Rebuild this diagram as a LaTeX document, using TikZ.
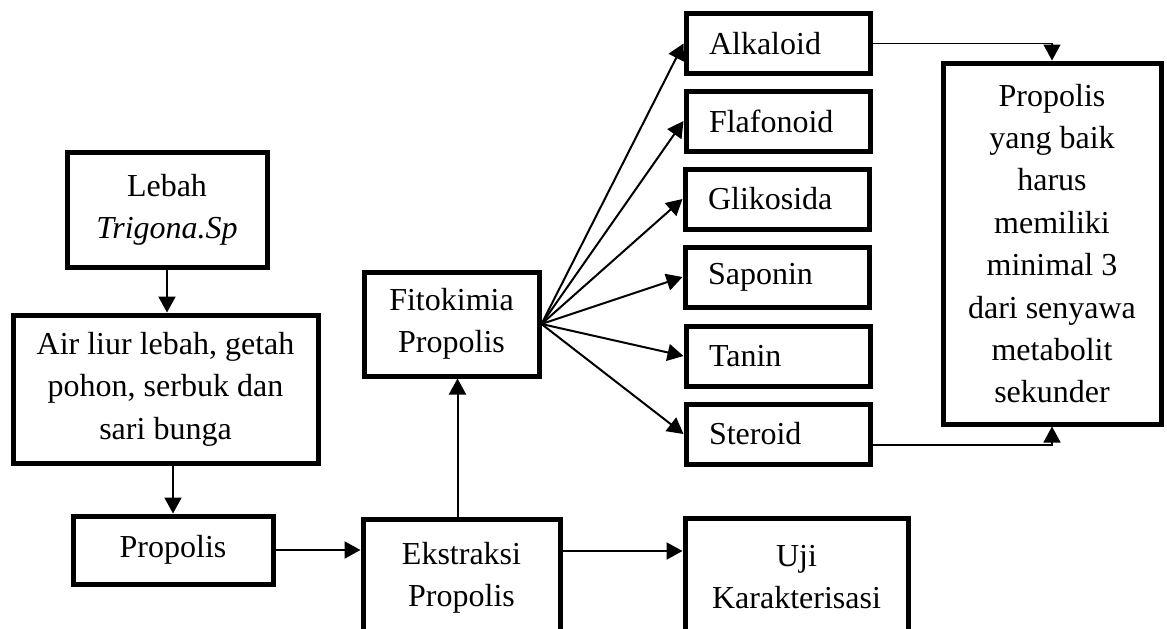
\documentclass[tikz,border=0pt]{standalone}
\usepackage{fontspec}
\setmainfont{Liberation Serif}
\usetikzlibrary{arrows.meta}

\tikzset{
	kotak/.style={draw, line width=2.5pt, align=center, inner sep=2pt, font=\fontsize{16}{21.2}\selectfont},
	senyawa/.style={kotak, align=left, text width=69pt, inner xsep=11.5pt, minimum height=30pt},
	panah/.style={-{Triangle[length=8pt,width=8.5pt]}, line width=1pt},
}

\begin{document}
\begin{tikzpicture}[x=0.5pt,y=-0.5pt]
	\path[use as bounding box, clip] (0,0) rectangle (1167,628);
	% kolom kiri
	\node[kotak, minimum width=100pt, minimum height=57.5pt] (lebah) at (167,209.5) {Lebah\\\textit{Trigona.Sp}};
	\node[kotak, minimum width=152.5pt, minimum height=74pt] (liur) at (165.5,389) {Air liur lebah, getah\\pohon, serbuk dan\\sari bunga};
	\node[kotak, minimum width=100pt, minimum height=34pt] (propolis) at (173,550) {Propolis};
	\node[kotak, minimum width=98.5pt, minimum height=58.5pt] (ekstrak) at (461.5,577.5) {Ekstraksi\\Propolis};
	\node[kotak, minimum width=111.5pt, minimum height=59pt] (uji) at (796.5,577) {Uji\\Karakterisasi};
	\node[kotak, minimum width=87.5pt, minimum height=52pt] (fito) at (451.5,324) {Fitokimia\\Propolis};
	% senyawa metabolit
	\node[senyawa] (alkaloid) at (778,43.5) {Alkaloid};
	\node[senyawa] (flafonoid) at (778,121) {Flafonoid};
	\node[senyawa] (glikosida) at (777,199) {Glikosida};
	\node[senyawa] (saponin) at (777,277) {Saponin};
	\node[senyawa] (tanin) at (778,356) {Tanin};
	\node[senyawa] (steroid) at (778,434) {Steroid};
	\node[kotak, minimum width=109pt, minimum height=180.5pt] (syarat) at (1052,243.5) {Propolis\\yang baik\\harus\\memiliki\\minimal 3\\dari senyawa\\metabolit\\sekunder};
	% panah
	\draw[panah] (lebah.south) -- (lebah.south |- liur.north);
	\draw[panah] (propolis.north |- liur.south) -- (propolis.north);
	\draw[panah] (propolis.east) -- (propolis.east -| ekstrak.west);
	\draw[panah] ([xshift=-2pt]ekstrak.north) -- ([xshift=-2pt]ekstrak.north |- fito.south);
	\draw[panah] ([yshift=13.25pt]ekstrak.east) -- ([yshift=13.25pt]ekstrak.east -| uji.west);
	\foreach \s in {alkaloid,flafonoid,glikosida,saponin,tanin,steroid}
		\draw[panah] (fito.east) -- (\s.west);
	\draw[panah, line width=0.8pt] (alkaloid.east) -| (syarat.north);
	\draw[panah, line width=0.8pt] ([yshift=-5.5pt]steroid.east) -| (syarat.south);
\end{tikzpicture}
\end{document}
